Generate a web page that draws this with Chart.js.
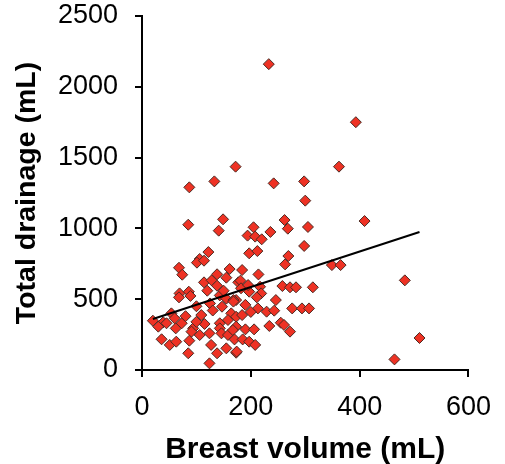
<!DOCTYPE html>
<html lang="en">
<head>
<meta charset="utf-8">
<style>
  html, body { margin: 0; padding: 0; background: #fff; }
  #wrap { width: 505px; height: 464px; }
</style>
<script src="https://cdn.jsdelivr.net/npm/chart.js"></script>
</head>
<body>
<div id="wrap"><canvas id="drainageChart" width="505" height="464"></canvas></div>
<script>
    // breast volume (mL) per patient
    const volume = [
        233, 393, 362, 409, 349, 365, 483, 510, 464,
        87, 133, 172, 242, 298, 300, 85, 149, 141, 205, 194, 208, 220, 236, 262, 268, 305, 298, 122, 197, 212, 269, 106,
        101, 114, 68, 74, 114, 128, 138, 138, 155, 161, 177, 69, 86, 89, 68, 143, 155, 173,
        263, 184, 214, 181, 182, 197, 217, 219, 258, 272, 283, 314, 211, 246, 168, 276, 294, 307,
        20, 39, 30, 54, 60, 73, 62, 36, 51, 63, 87, 85, 94, 91, 109, 115, 106, 124, 127, 138, 124, 143, 143, 146, 158, 155, 173, 147, 164, 158, 173, 173,
        168, 213, 229, 243, 184, 234, 255, 261, 272, 167, 190, 206, 170, 185, 197, 208, 174,
        100, 125, 190, 200, 130, 80, 45, 100, 150, 195, 120
    ];
    // total drainage (mL) per patient
    const drainage = [
        2160, 1750, 1436, 1052, 741, 741, 633, 226, 75,
        1290, 1332, 1436, 1318, 1332, 1196, 1026, 1064, 984, 1008, 949, 942, 923, 975, 1059, 998, 1010, 876, 833, 824, 840, 805, 784,
        758, 772, 722, 673, 619, 633, 676, 595, 652, 713, 619, 541, 553, 523, 513, 527, 504, 494,
        746, 706, 675, 631, 577, 553, 588, 541, 593, 584, 584, 584, 513, 494, 494, 435, 435, 435,
        348, 337, 306, 400, 365, 330, 294, 217, 177, 200, 207, 118, 294, 271, 388, 325, 247, 259, 177, 118, 47, 330, 294, 259, 247, 153, 122, 447, 400, 353, 376, 306,
        483, 435, 412, 419, 388, 311, 334, 318, 271, 282, 287, 287, 216, 216, 200, 177, 130,
        450, 470, 460, 410, 420, 380, 330, 340, 560, 600, 560
    ];
    // linear trend line end points
    const trendX = [20, 510];
    const trendY = [360, 975];

    const xTicks = [0, 200, 400, 600];
    const yTicks = [0, 500, 1000, 1500, 2000, 2500];

    const points = volume.map((v, i) => ({ x: v, y: drainage[i] }));
    const trend = trendX.map((v, i) => ({ x: v, y: trendY[i] }));

    const ctx = document.getElementById('drainageChart').getContext('2d');
    new Chart(ctx, {
        type: 'scatter',
        data: {
            datasets: [
                {
                    label: 'Trend',
                    data: trend,
                    showLine: true,
                    borderColor: '#000',
                    borderWidth: 2,
                    pointRadius: 0,
                    fill: false,
                    order: 0
                },
                {
                    label: 'Patients',
                    data: points,
                    pointStyle: 'rectRot',
                    pointRadius: 5.5,
                    backgroundColor: '#ee3224',
                    borderColor: '#4a2a22',
                    borderWidth: 1,
                    order: 1
                }
            ]
        },
        options: {
            responsive: false,
            animation: false,
            layout: { padding: { left: 0, right: 34, top: 16, bottom: 0 } },
            plugins: {
                legend: { display: false },
                tooltip: { enabled: false }
            },
            scales: {
                x: {
                    type: 'linear',
                    min: 0,
                    max: 600,
                    afterBuildTicks: (scale) => { scale.ticks = xTicks.map(v => ({ value: v })); },
                    afterFit: (scale) => { scale.height = 94; },
                    grid: { drawOnChartArea: false, drawTicks: true, tickLength: 7, color: '#000', lineWidth: 2 },
                    border: { color: '#000', width: 2 },
                    ticks: {
                        color: '#000', padding: 14, maxRotation: 0,
                        font: { family: 'Liberation Sans', size: 27 },
                        callback: (v) => String(v)
                    },
                    title: {
                        display: true,
                        text: 'Breast volume (mL)',
                        color: '#000',
                        padding: { top: 0, bottom: -4 },
                        font: { family: 'Liberation Sans', size: 30, weight: 'bold' }
                    }
                },
                y: {
                    type: 'linear',
                    min: 0,
                    max: 2500,
                    afterBuildTicks: (scale) => { scale.ticks = yTicks.map(v => ({ value: v })); },
                    afterFit: (scale) => {
                        scale.width = 142;
                        scale.paddingTop = 0;
                        scale.paddingBottom = 0;
                    },
                    grid: { drawOnChartArea: false, drawTicks: true, tickLength: 7, color: '#000', lineWidth: 2 },
                    border: { color: '#000', width: 2 },
                    ticks: {
                        color: '#000', padding: 17,
                        font: { family: 'Liberation Sans', size: 27 },
                        callback: (v) => String(v)
                    },
                    title: {
                        display: true,
                        text: 'Total drainage (mL)',
                        color: '#000',
                        padding: { top: 10, bottom: 0 },
                        font: { family: 'Liberation Sans', size: 28.5, weight: 'bold' }
                    }
                }
            }
        }
    });
</script>
</body>
</html>
